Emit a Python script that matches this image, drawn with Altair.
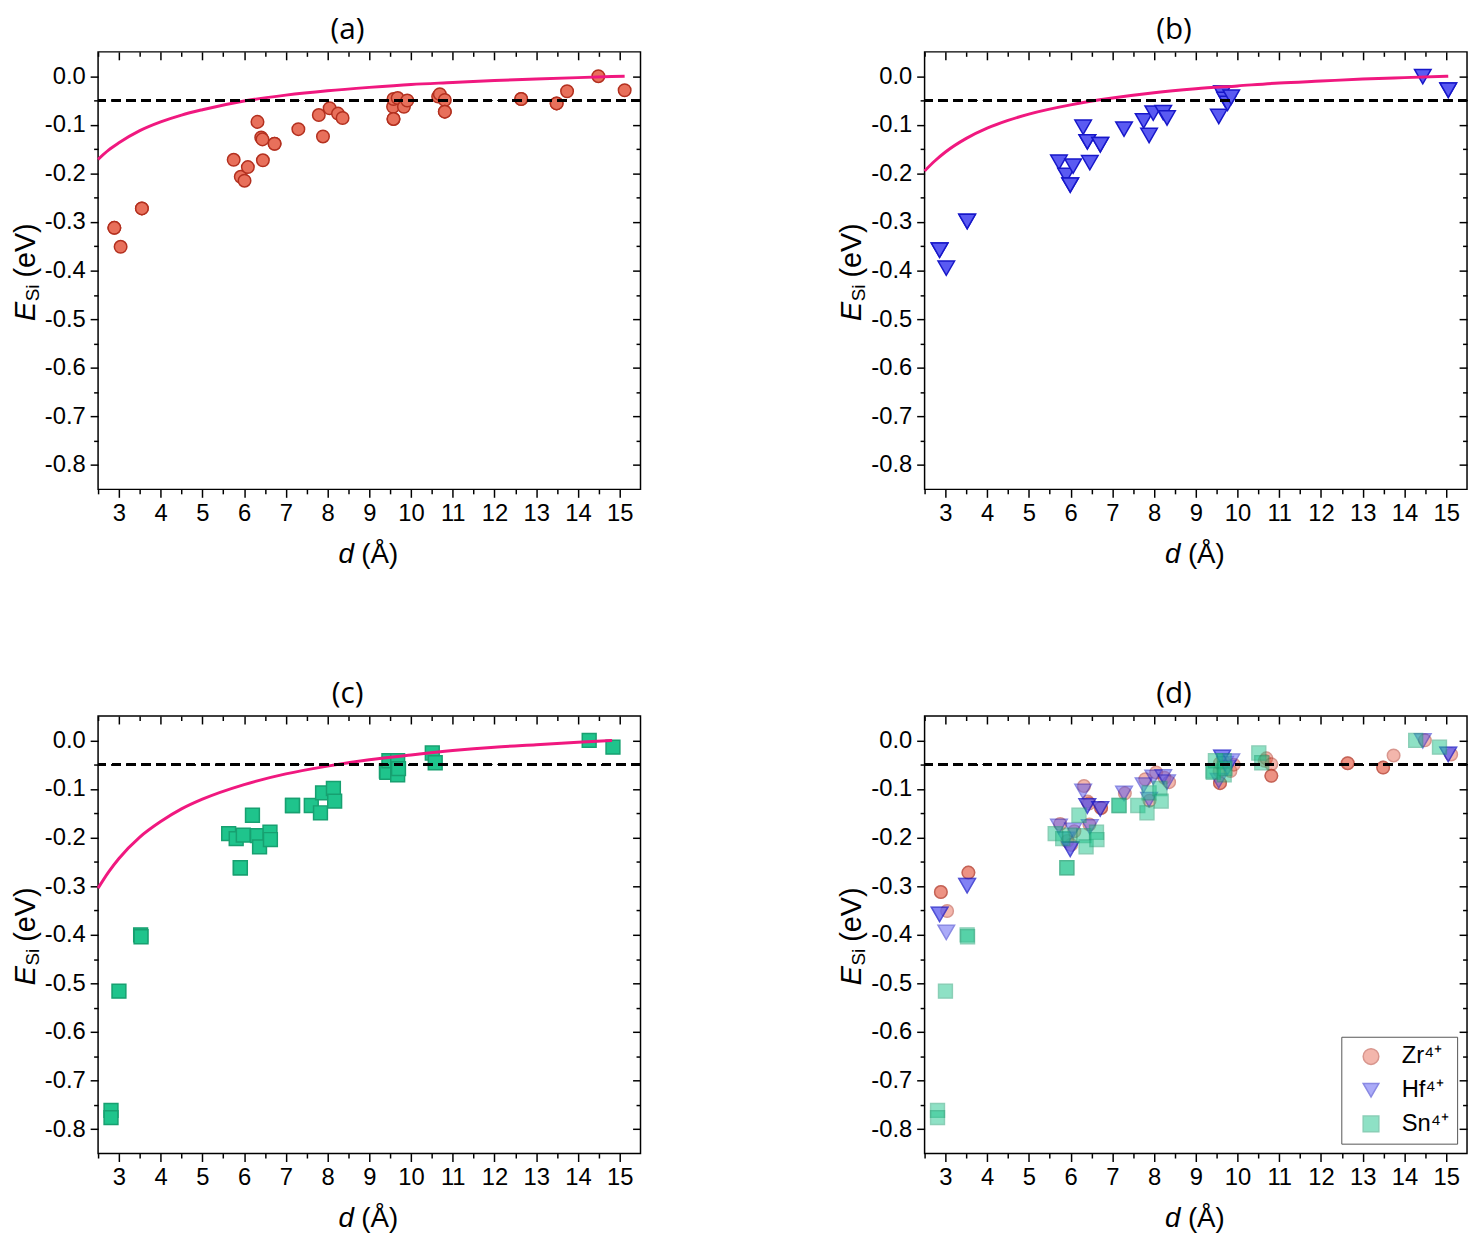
import altair as alt
import pandas as pd

# ---------------- data ----------------
zr_d = [2.89, 2.89, 3.04, 3.55, 3.55, 5.75, 5.92, 6.01, 6.09, 6.32, 6.41, 6.44, 6.45, 6.73, 6.73,
        7.30, 7.79, 7.89, 8.05, 8.25, 8.36, 9.57, 9.58, 9.58, 9.58, 9.68, 9.83, 9.91,
        10.65, 10.69, 10.81, 10.81, 10.81, 12.64, 12.64, 13.49, 13.49, 13.74, 14.49, 15.12]
zr_e = [-0.312, -0.312, -0.351, -0.272, -0.272, -0.172, -0.207, -0.215, -0.187, -0.094, -0.126, -0.130, -0.173, -0.139, -0.139,
        -0.109, -0.080, -0.124, -0.066, -0.077, -0.086, -0.063, -0.047, -0.088, -0.088, -0.045, -0.063, -0.050,
        -0.042, -0.037, -0.049, -0.073, -0.073, -0.047, -0.047, -0.056, -0.056, -0.031, 0.000, -0.029]

hf_d = [2.86, 2.86, 3.02, 3.52, 3.52, 5.72, 5.89, 5.99, 5.99, 6.06, 6.30, 6.40, 6.40, 6.46, 6.71, 6.71,
        7.28, 7.75, 7.88, 7.98, 8.22, 8.31, 9.55, 9.63, 9.63, 9.70, 9.76, 9.85, 14.44, 15.05, 15.05]
hf_e = [-0.358, -0.358, -0.395, -0.299, -0.299, -0.177, -0.204, -0.224, -0.224, -0.185, -0.105, -0.135, -0.135, -0.178, -0.141, -0.141,
        -0.109, -0.092, -0.122, -0.076, -0.075, -0.086, -0.083, -0.035, -0.035, -0.048, -0.056, -0.043, -0.001, -0.029, -0.029]

sn_d = [2.81, 2.81, 3.00, 3.52, 3.53, 5.63, 5.81, 5.91, 5.91, 5.98, 6.20, 6.32, 6.37, 6.62, 6.63,
        7.16, 7.16, 7.61, 7.83, 7.88, 8.14, 8.17, 9.41, 9.42, 9.47, 9.68, 9.68, 9.70, 10.51, 10.58, 14.27, 14.84]
sn_e = [-0.761, -0.776, -0.516, -0.400, -0.404, -0.192, -0.202, -0.262, -0.262, -0.195, -0.154, -0.196, -0.219, -0.189, -0.204,
        -0.134, -0.134, -0.134, -0.149, -0.108, -0.099, -0.125, -0.063, -0.066, -0.042, -0.042, -0.071, -0.058, -0.026, -0.046, 0.000, -0.014]

# fitted curves
fit_a_d = [2.5, 2.75, 3.0, 3.5, 4.0, 4.5, 5.0, 6.0, 7.0, 8.0, 9.0, 10.0, 11.0, 12.0, 13.0, 14.0, 15.12]
fit_a_e = [-0.171, -0.152, -0.137, -0.112, -0.094, -0.080, -0.069, -0.051, -0.039, -0.030, -0.023, -0.017, -0.013, -0.009, -0.006, -0.003, 0.000]
fit_b_d = [2.5, 2.75, 3.0, 3.5, 4.0, 4.5, 5.0, 6.0, 7.0, 8.0, 9.0, 10.0, 11.0, 12.0, 13.0, 14.0, 15.05]
fit_b_e = [-0.195, -0.174, -0.156, -0.128, -0.107, -0.091, -0.078, -0.059, -0.045, -0.034, -0.026, -0.020, -0.014, -0.010, -0.006, -0.003, 0.000]
fit_c_d = [2.5, 2.75, 3.0, 3.5, 4.0, 4.5, 5.0, 6.0, 7.0, 8.0, 9.0, 10.0, 11.0, 12.0, 13.0, 14.0, 14.82]
fit_c_e = [-0.304, -0.271, -0.243, -0.199, -0.167, -0.141, -0.121, -0.091, -0.069, -0.053, -0.040, -0.030, -0.021, -0.014, -0.009, -0.004, 0.000]

ions = ["Zr⁴⁺", "Hf⁴⁺", "Sn⁴⁺"]
threshold = -0.05

x_ticks = [2.5, 3, 3.5, 4, 4.5, 5, 5.5, 6, 6.5, 7, 7.5, 8, 8.5, 9, 9.5, 10, 10.5, 11, 11.5,
           12, 12.5, 13, 13.5, 14, 14.5, 15]
y_ticks = [0, -0.05, -0.1, -0.15, -0.2, -0.25, -0.3, -0.35, -0.4, -0.45, -0.5, -0.55,
           -0.6, -0.65, -0.7, -0.75, -0.8]

# ---------------- styling ----------------
FONT = "Liberation Sans"
TFONT = "Open Sans"
W, H = 548, 442
XDOM = [2.5, 15.5]
YDOM = [-0.85, 0.05]
FILLS = ["#E8705B", "#5A5AF2", "#1FC48C"]
STROKES = ["#B3301F", "#1717C9", "#17A070"]
SHAPES = ["circle", "triangle-down", "square"]
SIZES = [160, 280, 195]
CURVE = "#F0187F"

minor_x = "round(datum.value*2) % 2 != 0"
minor_y = "round(abs(datum.value)*20) % 2 != 0"

xscale = alt.Scale(domain=XDOM, nice=False, zero=False)
yscale = alt.Scale(domain=YDOM, nice=False, zero=False)


def x_main():
    return alt.Axis(values=x_ticks, labelExpr=minor_x + " ? '' : format(datum.value, 'd')",
                    tickSize={"condition": {"test": minor_x, "value": 4.5}, "value": 8},
                    tickWidth=1.5, tickColor="black", domain=False, grid=False,
                    labelFont=FONT, labelFontSize=24, labelColor="black", labelPadding=4,
                    labelFlush=False, labelOverlap=False, title=None)


def y_main():
    return alt.Axis(values=y_ticks,
                    labelExpr=minor_y + " ? '' : (datum.value < -0.001 ? '-' + format(-datum.value, '.1f') : '0.0')",
                    tickSize={"condition": {"test": minor_y, "value": 4.5}, "value": 8},
                    tickWidth=1.5, tickColor="black", domain=False, grid=False,
                    labelFont=FONT, labelFontSize=24, labelColor="black", labelPadding=5,
                    labelFlush=False, labelOverlap=False, title=None)


def x_mirror():
    return alt.Axis(orient="bottom", offset=-H, values=x_ticks, labels=False,
                    tickSize={"condition": {"test": minor_x, "value": 4.5}, "value": 8},
                    tickWidth=1.5, tickColor="black", domain=False, grid=False, title=None)


def y_mirror():
    return alt.Axis(orient="left", offset=-W, values=y_ticks, labels=False,
                    tickSize={"condition": {"test": minor_y, "value": 4.5}, "value": 8},
                    tickWidth=1.5, tickColor="black", domain=False, grid=False, title=None)


def txt(label, x, y, size, italic=False, angle=0, font=FONT):
    kw = dict(align="left", baseline="alphabetic", fontSize=size, font=font, color="black")
    if italic:
        kw["fontStyle"] = "italic"
    if angle:
        kw["angle"] = angle
    return alt.Chart(pd.DataFrame({"t": [label]})).mark_text(**kw).encode(
        text="t:N", x=alt.value(x), y=alt.value(y))


def axis_titles():
    return [
        txt("E", -64, 272, 29, italic=True, angle=270),
        txt("Si", -60, 252, 19, angle=270),
        txt("(eV)", -64, 228, 29, angle=270),
        txt("d", 243, 516, 28, italic=True),
        txt("(Å)", 266, 516, 28),
    ]


def panel(tag, df, pts_layers, fit_d=None, fit_e=None):
    layers = list(pts_layers)
    if fit_d is not None:
        fdf = pd.DataFrame({"d": fit_d, "E": fit_e})
        layers.append(alt.Chart(fdf).mark_line(color=CURVE, strokeWidth=3, interpolate="monotone").encode(
            x=alt.X("d:Q", scale=xscale, axis=None), y=alt.Y("E:Q", scale=yscale, axis=None)))
    layers.append(alt.Chart(df).mark_rule(color="black", strokeWidth=2, strokeDash=[9, 6]).encode(
        y=alt.YDatum(threshold, axis=None)))
    layers.append(alt.Chart(df).mark_point(opacity=0).encode(
        x=alt.X("d:Q", scale=xscale, axis=x_mirror()), y=alt.Y("E:Q", scale=yscale, axis=y_mirror())))
    layers += axis_titles()
    return alt.layer(*layers).resolve_axis(x="independent", y="independent").properties(
        width=W, height=H,
        title=alt.TitleParams(tag, font=TFONT, fontSize=30, fontWeight="normal", color="black",
                              frame="group", anchor="middle", dx=-22, offset=6))


def single(d, e, i):
    df = pd.DataFrame({"d": d, "E": e})
    pts = alt.Chart(df).mark_point(shape=SHAPES[i], filled=True, size=SIZES[i], fill=FILLS[i],
                                   stroke=STROKES[i], strokeWidth=1.5, opacity=1).encode(
        x=alt.X("d:Q", scale=xscale, axis=x_main()), y=alt.Y("E:Q", scale=yscale, axis=y_main()))
    return df, pts


dfa, pa = single(zr_d, zr_e, 0)
dfb, pb = single(hf_d, hf_e, 1)
dfc, pc = single(sn_d, sn_e, 2)

series = [(zr_d, zr_e), (hf_d, hf_e), (sn_d, sn_e)]
all_df = pd.concat([pd.DataFrame({"d": d, "E": e, "ion": ions[i]}) for i, (d, e) in enumerate(series)],
                   ignore_index=True)

leg = alt.Legend(title=None, orient="none", legendX=421, legendY=324, strokeColor="#555555",
                 fillColor="white", padding=8, symbolOffset=10, labelFont=FONT, labelFontSize=24,
                 labelColor="black", symbolSize=250, symbolOpacity=0.5, symbolStrokeWidth=1.5,
                 rowPadding=10, labelOffset=19)

d_layers = []
for i, (d, e) in enumerate(series):
    sdf = pd.DataFrame({"d": d, "E": e, "ion": ions[i]})
    enc = dict(
        x=alt.X("d:Q", scale=xscale, axis=x_main() if i == 0 else None),
        y=alt.Y("E:Q", scale=yscale, axis=y_main() if i == 0 else None),
        fill=alt.Fill("ion:N", scale=alt.Scale(domain=ions, range=FILLS), legend=leg),
        stroke=alt.Stroke("ion:N", scale=alt.Scale(domain=ions, range=STROKES), legend=leg),
        shape=alt.Shape("ion:N", scale=alt.Scale(domain=ions, range=SHAPES), legend=leg),
    )
    d_layers.append(alt.Chart(sdf).mark_point(filled=True, size=SIZES[i], strokeWidth=1.5,
                                              opacity=0.5).encode(**enc))

A = panel("(a)", dfa, [pa], fit_a_d, fit_a_e)
B = panel("(b)", dfb, [pb], fit_b_d, fit_b_e)
C = panel("(c)", dfc, [pc], fit_c_d, fit_c_e)
D = panel("(d)", all_df, d_layers)

indep = dict(fill="independent", stroke="independent", shape="independent")
chart = alt.vconcat(
    alt.hconcat(A, B, spacing=197).resolve_scale(**indep),
    alt.hconcat(C, D, spacing=197).resolve_scale(**indep),
    spacing=110,
).resolve_scale(**indep).properties(
    padding={"left": 3, "top": 0, "right": 0, "bottom": 0},
    background="white",
).configure_view(stroke="black", strokeWidth=1.5)

chart.save("out.html", embed_options={"renderer": "svg", "actions": False})
